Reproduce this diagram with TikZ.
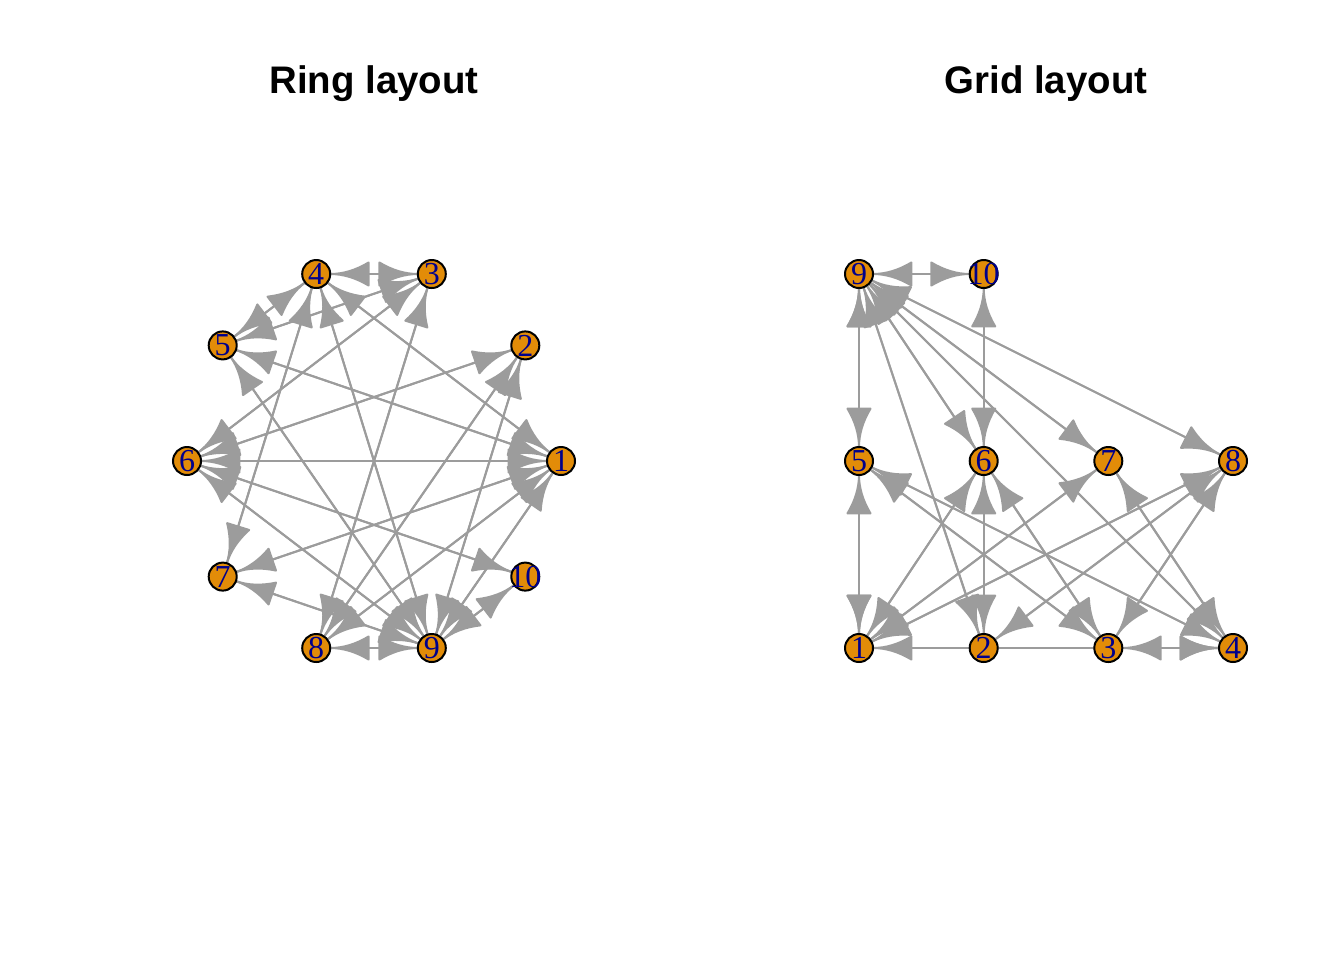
\documentclass[tikz,border=0pt]{standalone}
\usepackage{fontspec}
\setmainfont{Liberation Serif}
\newfontfamily\titlefont{Liberation Sans}
\usetikzlibrary{arrows.meta}
\pgfdeclarearrow{
  name = IgArrow,
  parameters = {\the\pgfarrowlength},
  setup code = {
    \pgfarrowssettipend{0pt}
    \pgfarrowssetlineend{-0.6\pgfarrowlength}
    \pgfarrowssetbackend{-\pgfarrowlength}
    \pgfarrowssavethe\pgfarrowlength
  },
  drawing code = {
    \pgfsetroundjoin
    \pgfpathmoveto{\pgfpointorigin}
    \pgfpathcurveto
      {\pgfpoint{-0.3333\pgfarrowlength}{0pt}}
      {\pgfpoint{-0.6667\pgfarrowlength}{0.1\pgfarrowlength}}
      {\pgfpoint{-\pgfarrowlength}{0.3\pgfarrowlength}}
    \pgfpathlineto{\pgfpoint{-\pgfarrowlength}{-0.3\pgfarrowlength}}
    \pgfpathcurveto
      {\pgfpoint{-0.6667\pgfarrowlength}{-0.1\pgfarrowlength}}
      {\pgfpoint{-0.3333\pgfarrowlength}{0pt}}
      {\pgfpointorigin}
    \pgfpathclose
    \pgfusepathqfillstroke
  },
  defaults = {length = 19.2pt}
}
\definecolor{edgegray}{RGB}{156,156,156}
\definecolor{vfill}{RGB}{226,140,8}
\definecolor{vlab}{RGB}{0,0,139}
\pgfdeclarelayer{bglayer}
\pgfdeclarelayer{edgelayer}
\pgfsetlayers{bglayer,edgelayer,main}
\tikzset{
  vtx/.style={circle, draw=black, line width=1pt, fill=vfill, minimum size=14pt,
    inner sep=0pt, outer sep=0pt},
  vlabel/.style={text=vlab, font=\fontsize{16}{16}\selectfont, inner sep=0pt},
  gedge/.style={draw=edgegray, fill=edgegray, line width=1pt, -{IgArrow}},
  ttl/.style={font=\titlefont\bfseries\fontsize{19.2}{20}\selectfont, anchor=base, inner sep=0pt}
}
\begin{document}
\begin{tikzpicture}[x=0.5pt, y=-0.5pt]
\begin{pgfonlayer}{bglayer}
\fill[white] (0,0) rectangle (1344,960);
\end{pgfonlayer}
\useasboundingbox (0,0) rectangle (1344,960);
\node[ttl] (t1) at (374,93) {Ring layout};
\node[ttl] (t2) at (1046,93) {Grid layout};
% ring layout
\foreach \n/\x/\y in {1/561/461, 2/525.3/345.4, 3/431.8/274, 4/316.2/274, 5/222.7/345.4,
  6/187/461, 7/222.7/576.6, 8/316.2/648, 9/431.8/648, 10/525.3/576.6}{
  \node[vtx, label={[vlabel]center:\n}] (r\n) at (\x,\y) {};
}
% grid layout
\foreach \n/\x/\y in {1/859/648, 2/983.7/648, 3/1108.3/648, 4/1233/648, 5/859/461,
  6/983.7/461, 7/1108.3/461, 8/1233/461, 9/859/274, 10/983.7/274}{
  \node[vtx, label={[vlabel]center:\n}] (g\n) at (\x,\y) {};
}
\begin{pgfonlayer}{edgelayer}
\foreach \a/\b in {1/4,1/5,1/6,1/7,1/8,1/9,2/6,2/8,2/9,3/4,3/5,3/6,3/8,4/5,4/7,4/9,
  5/9,6/9,6/10,7/9,8/9,9/10}{
  \draw[gedge] (r\a) -- (r\b);
  \draw[gedge] (r\b) -- (r\a);
  \draw[gedge] (g\a) -- (g\b);
  \draw[gedge] (g\b) -- (g\a);
}
\end{pgfonlayer}
\end{tikzpicture}
\end{document}
